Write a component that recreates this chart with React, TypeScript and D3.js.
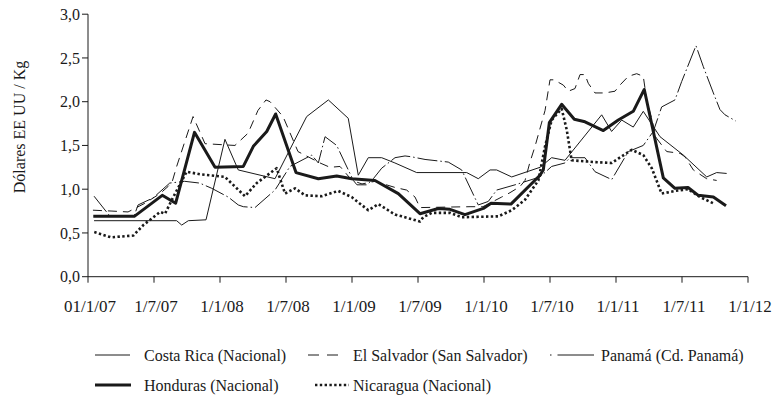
import * as d3 from 'd3';

// x = months since 1 Jan 2007, y = US$ per kg
const xTickLabels = ['01/1/07', '1/7/07', '1/1/08', '1/7/08', '1/1/09', '1/7/09', '1/1/10', '1/7/10', '1/1/11', '1/7/11', '1/1/12'];
const yTicks = [0, 0.5, 1, 1.5, 2, 2.5, 3];

const costaRica: [number, number][] = [
  [0.55, 0.64], [8.06, 0.64], [8.52, 0.59], [9.12, 0.64], [10.73, 0.65], [12.45, 1.57], [13.66, 1.22],
  [17.0, 1.12], [19.88, 1.83], [21.85, 2.02], [23.66, 1.81], [24.57, 1.16], [25.48, 1.36], [26.7, 1.36],
  [27.9, 1.3], [29.88, 1.19], [34.43, 1.19], [35.48, 1.12], [36.55, 1.22], [37.15, 1.22], [38.52, 1.14],
  [41.09, 1.25], [42.15, 1.36], [43.36, 1.33], [46.7, 1.85], [47.6, 1.66], [48.52, 1.79], [49.57, 1.71],
  [50.48, 1.89], [52.0, 1.6], [54.12, 1.39], [56.25, 1.14], [57.15, 1.19], [58.06, 1.18],
];

const elSalvador: [number, number][] = [
  [0.45, 0.76], [2.18, 0.75], [3.64, 0.74], [5.18, 0.84], [6.55, 0.95], [7.27, 1.03], [7.64, 1.08],
  [8.06, 1.26], [9.55, 1.83], [10.64, 1.52], [13.36, 1.5], [14.55, 1.64], [15.45, 1.9], [16.18, 2.02],
  [16.55, 2.0], [17.73, 1.83], [19.09, 1.43], [21.09, 1.3], [22.0, 1.25], [22.91, 1.26], [24.0, 1.1],
  [24.91, 1.06], [26.09, 1.09], [27.91, 1.02], [28.97, 0.99], [29.73, 0.91], [30.18, 0.79], [34.73, 0.8],
  [35.9, 0.8], [37.6, 0.91], [38.36, 0.96], [39.27, 1.03], [39.73, 1.1], [40.18, 1.31], [40.64, 1.49],
  [41.55, 1.9], [42.0, 2.25], [42.36, 2.25], [43.21, 2.19], [43.67, 2.12], [44.27, 2.15], [44.73, 2.31],
  [45.18, 2.31], [45.48, 2.21], [46.09, 2.1], [47.0, 2.1], [47.91, 2.12], [48.36, 2.19], [49.12, 2.29],
  [49.88, 2.32], [50.48, 2.29], [50.79, 2.02], [51.7, 1.58], [52.61, 1.43], [53.82, 1.41], [54.27, 1.37],
  [55.03, 1.22], [56.24, 1.12], [57.15, 1.1],
];

const panama: [number, number][] = [
  [0.55, 0.92], [2.0, 0.69], [4.18, 0.69], [4.55, 0.82], [5.91, 0.9], [7.43, 1.07], [8.79, 1.09],
  [10.15, 1.07], [11.25, 1.01], [12.75, 0.91], [13.66, 0.82], [14.12, 0.8], [15.18, 0.79], [17.0, 0.99],
  [18.36, 1.26], [20.34, 1.39], [20.94, 1.3], [21.55, 1.6], [22.61, 1.5], [23.36, 1.3], [24.12, 1.1],
  [24.45, 1.05], [25.36, 1.05], [25.94, 1.12], [26.7, 1.24], [27.91, 1.36], [28.82, 1.38], [29.43, 1.37],
  [30.64, 1.34], [32.75, 1.31], [33.97, 1.22], [35.48, 0.82], [36.39, 0.86], [37.15, 0.99], [38.82, 1.05],
  [41.09, 1.14], [42.15, 1.26], [43.36, 1.3], [43.82, 1.36], [45.18, 1.36], [46.09, 1.2], [47.61, 1.11],
  [49.12, 1.43], [50.48, 1.5], [51.39, 1.66], [52.15, 1.94], [53.36, 2.02], [53.97, 2.23], [55.27, 2.64],
  [55.94, 2.4], [56.85, 2.1], [57.45, 1.91], [57.91, 1.85], [58.88, 1.78],
];

const honduras: [number, number][] = [
  [0.48, 0.69], [4.21, 0.69], [6.75, 0.93], [7.97, 0.84], [9.68, 1.65], [11.55, 1.25], [14.12, 1.26],
  [15.03, 1.49], [16.25, 1.66], [17.06, 1.86], [18.91, 1.19], [20.94, 1.12], [22.61, 1.15], [23.97, 1.12],
  [26.09, 1.1], [28.21, 0.95], [30.18, 0.72], [31.85, 0.78], [32.91, 0.77], [34.27, 0.71], [35.94, 0.78],
  [36.64, 0.84], [38.45, 0.83], [41.09, 1.16], [41.39, 1.22], [41.94, 1.76], [43.06, 1.97], [44.21, 1.8],
  [45.18, 1.77], [46.85, 1.67], [48.21, 1.79], [49.57, 1.89], [50.57, 2.14], [52.3, 1.13], [53.36, 1.01],
  [54.55, 1.02], [55.48, 0.93], [56.85, 0.91], [58.0, 0.81],
];

const nicaragua: [number, number][] = [
  [0.57, 0.51], [2.09, 0.45], [4.12, 0.47], [5.03, 0.59], [6.55, 0.74], [7.0, 0.72], [7.75, 0.91],
  [8.97, 1.2], [10.18, 1.17], [12.45, 1.14], [14.27, 0.92], [15.34, 1.07], [17.15, 1.24], [17.91, 0.95],
  [18.82, 1.01], [19.73, 0.93], [21.25, 0.92], [22.75, 0.98], [23.97, 0.91], [25.48, 0.76], [26.39, 0.83],
  [27.91, 0.71], [28.52, 0.69], [30.18, 0.63], [30.48, 0.68], [31.25, 0.73], [32.91, 0.73], [33.97, 0.68],
  [37.3, 0.69], [38.52, 0.76], [39.73, 0.88], [40.94, 1.1], [41.55, 1.49], [42.15, 1.79], [43.06, 1.92],
  [43.52, 1.68], [43.97, 1.33], [46.09, 1.31], [47.61, 1.3], [48.21, 1.35], [49.43, 1.45], [50.48, 1.39],
  [51.25, 1.24], [52.15, 0.95], [53.36, 0.98], [54.55, 1.0], [55.64, 0.91], [57.0, 0.83],
];

// legend: sample from x1 to x2, label at tx
const series = [
  { name: 'Costa Rica (Nacional)', data: costaRica, width: 1, dash: '', legDash: '', x1: 95, x2: 130, tx: 144, ly: 355 },
  { name: 'El Salvador (San Salvador)', data: elSalvador, width: 1, dash: '9,6', legDash: '11,8', x1: 308, x2: 338, tx: 353, ly: 355 },
  { name: 'Panamá (Cd. Panamá)', data: panama, width: 1, dash: '20,3,1.5,3', legDash: '1.5,6,40', x1: 550, x2: 594, tx: 601, ly: 355 },
  { name: 'Honduras (Nacional)', data: honduras, width: 3, dash: '', legDash: '', x1: 95, x2: 131, tx: 144, ly: 385 },
  { name: 'Nicaragua (Nacional)', data: nicaragua, width: 2.6, dash: '2.4,2.4', legDash: '2.4,2.4', x1: 315, x2: 349, tx: 353, ly: 385 },
];

const W = 776;
const H = 400;
const left = 88;
const right = 748;
const top = 14.2;
const bottom = 276.7;
const ink = '#1a1a1a';
const font = "'Liberation Serif', 'Times New Roman', serif";

export default function App() {
  const x = d3.scaleLinear().domain([0, 60]).range([left, right]);
  const y = d3.scaleLinear().domain([0, 3]).range([bottom, top]);
  const line = d3.line<[number, number]>().x(d => x(d[0])).y(d => y(d[1]));
  const fmt = (v: number) => d3.format('.1f')(v).replace('.', ',');

  return (
    <svg width={W} height={H}
      style={{ position: 'absolute', left: 0, top: 0, background: '#fff', fontFamily: font, fontSize: 16 }}>
      <g fill={ink}>
        {/* y axis */}
        <line x1={left} x2={left} y1={top} y2={bottom} stroke={ink} strokeWidth={1} />
        {yTicks.map(t => (
          <g key={t}>
            <line x1={left - 6} x2={left} y1={y(t)} y2={y(t)} stroke={ink} />
            <text x={left - 8} y={y(t)} dy="0.35em" textAnchor="end">{fmt(t)}</text>
          </g>
        ))}
        <text transform="translate(19,127) rotate(-90)" textAnchor="middle" dy="0.35em">Dólares EE UU / Kg</text>

        {/* x axis */}
        <line x1={left} x2={right} y1={bottom} y2={bottom} stroke={ink} strokeWidth={1} />
        {xTickLabels.map((lab, i) => (
          <g key={lab}>
            <line x1={x(i * 6)} x2={x(i * 6)} y1={bottom} y2={bottom + 6} stroke={ink} />
            <text x={x(i * 6) + 2} y={306} dy="0.35em" textAnchor="middle" fontSize={17}>{lab}</text>
          </g>
        ))}

        {/* series */}
        {series.map(s => (
          <path key={s.name} d={line(s.data) ?? ''} fill="none" stroke={ink} strokeWidth={s.width}
            strokeDasharray={s.dash || undefined} strokeLinejoin="round" />
        ))}

        {/* legend */}
        {series.map(s => (
          <g key={s.name + '-lg'}>
            <line x1={s.x1} x2={s.x2} y1={s.ly} y2={s.ly} stroke={ink} strokeWidth={s.width}
              strokeDasharray={s.legDash || undefined} />
            <text x={s.tx} y={s.ly} dy="0.35em">{s.name}</text>
          </g>
        ))}
      </g>
    </svg>
  );
}
